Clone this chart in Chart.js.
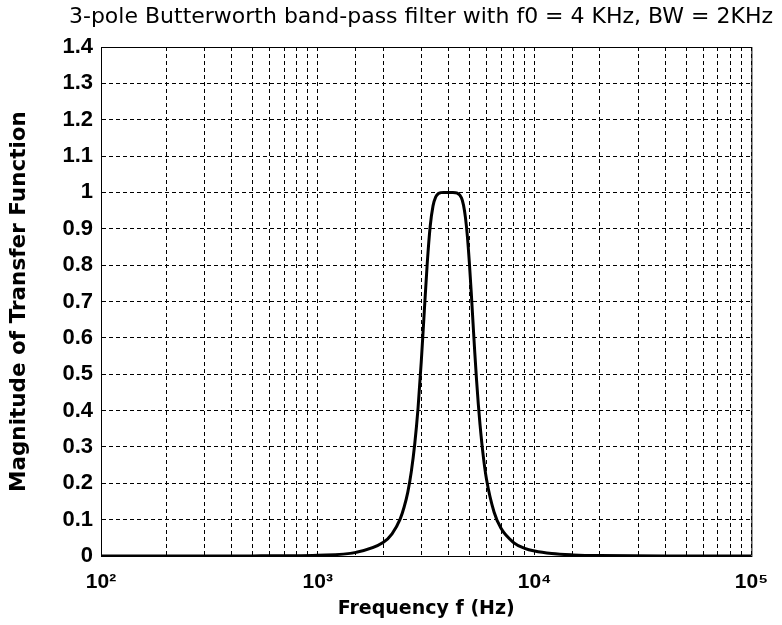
<!DOCTYPE html>
<html>
<head>
<meta charset="utf-8">
<script src="https://cdn.jsdelivr.net/npm/chart.js@4"></script>
<style>
  html, body { margin: 0; padding: 0; background: #fff; }
  #wrap { width: 782px; height: 625px; }
</style>
</head>
<body>
<div id="wrap"><canvas id="bpChart" width="782" height="625"></canvas></div>
<script>
// values
const freqHz = [100, 200, 500, 1000, 1500, 2000, 2200, 2400, 2500, 2600, 2700, 2800, 2900,
  3000, 3100, 3200, 3300, 3400, 3500, 3600, 3700, 3800, 4000, 4200, 4400, 4600, 4700,
  4800, 4900, 5000, 5100, 5200, 5300, 5400, 5500, 5600, 5800, 6000, 6500, 7000, 8000,
  9000, 10000, 12000, 15000, 20000, 50000, 100000];
const magnitude = [0, 0, 0.0003, 0.0024, 0.010, 0.037, 0.061, 0.102, 0.134, 0.175, 0.232, 0.308, 0.407,
  0.533, 0.674, 0.808, 0.907, 0.963, 0.988, 0.997, 0.9995, 1.0, 1.0, 1.0, 0.998, 0.985, 0.965,
  0.930, 0.878, 0.808, 0.727, 0.641, 0.558, 0.483, 0.418, 0.362, 0.274, 0.211, 0.121, 0.076, 0.037,
  0.021, 0.0135, 0.0066, 0.003, 0.0011, 0.0001, 0];

const decadeValues = [100, 1000, 10000, 100000];
const decadeLabels = ["10\u00B2", "10\u00B3", "10\u2074", "10\u2075"];

const titleText = "3-pole Butterworth band-pass filter with f0 = 4 KHz, BW = 2KHz";

const points = freqHz.map((f, i) => ({ x: f, y: magnitude[i] }));

// box around the plot area + title text
const frameAndTitle = {
  id: "frameAndTitle",
  afterDraw(chart) {
    const { ctx, chartArea } = chart;
    ctx.save();
    ctx.strokeStyle = "#000";
    ctx.lineWidth = 1;
    ctx.strokeRect(chartArea.left + 0.5, chartArea.top + 0.5,
      chartArea.right - chartArea.left, chartArea.bottom - chartArea.top);
    ctx.fillStyle = "#000";
    ctx.font = "22px 'DejaVu Sans', sans-serif";
    ctx.textAlign = "center";
    ctx.textBaseline = "middle";
    ctx.fillText(titleText, 421, 17);
    ctx.restore();
  },
};

new Chart(document.getElementById("bpChart"), {
  type: "line",
  data: {
    datasets: [
      {
        data: points,
        borderColor: "#000",
        borderWidth: 3,
        pointRadius: 0,
        fill: false,
        cubicInterpolationMode: "monotone",
      },
    ],
  },
  options: {
    responsive: false,
    animation: false,
    layout: { padding: { top: 47, right: 30, left: 0, bottom: 0 } },
    plugins: { legend: { display: false }, tooltip: { enabled: false } },
    scales: {
      x: {
        type: "logarithmic",
        min: 100,
        max: 100000,
        afterFit(scale) { scale.height = 69; },
        grid: { color: "#000", lineWidth: 1, drawTicks: false },
        border: { color: "#000", width: 1, dash: [4, 3] },
        ticks: {
          autoSkip: false,
          maxRotation: 0,
          padding: 14,
          color: "#000",
          font: { family: "'Liberation Sans', Arial, sans-serif", size: 21, weight: "bold" },
          callback: (v) => {
            const k = decadeValues.indexOf(Number(v));
            return k >= 0 ? decadeLabels[k] : "";
          },
        },
        title: {
          display: true,
          text: "Frequency f (Hz)",
          color: "#000",
          font: { family: "'DejaVu Sans', sans-serif", size: 19, weight: "bold" },
          padding: { top: 0, bottom: 5 },
        },
      },
      y: {
        min: 0,
        max: 1.4,
        afterFit(scale) { scale.width = 101; },
        grid: { color: "#000", lineWidth: 1, drawTicks: false },
        border: { color: "#000", width: 1, dash: [4, 3] },
        ticks: {
          stepSize: 0.1,
          padding: 8,
          color: "#000",
          font: { family: "'Liberation Sans', Arial, sans-serif", size: 22, weight: "bold" },
          callback: (v) => String(Math.round(v * 10) / 10),
        },
        title: {
          display: true,
          text: "Magnitude of Transfer Function",
          color: "#000",
          font: { family: "'DejaVu Sans', sans-serif", size: 21.5, weight: "bold" },
          padding: { top: 7, bottom: 0 },
        },
      },
    },
  },
  plugins: [frameAndTitle],
});
</script>
</body>
</html>
